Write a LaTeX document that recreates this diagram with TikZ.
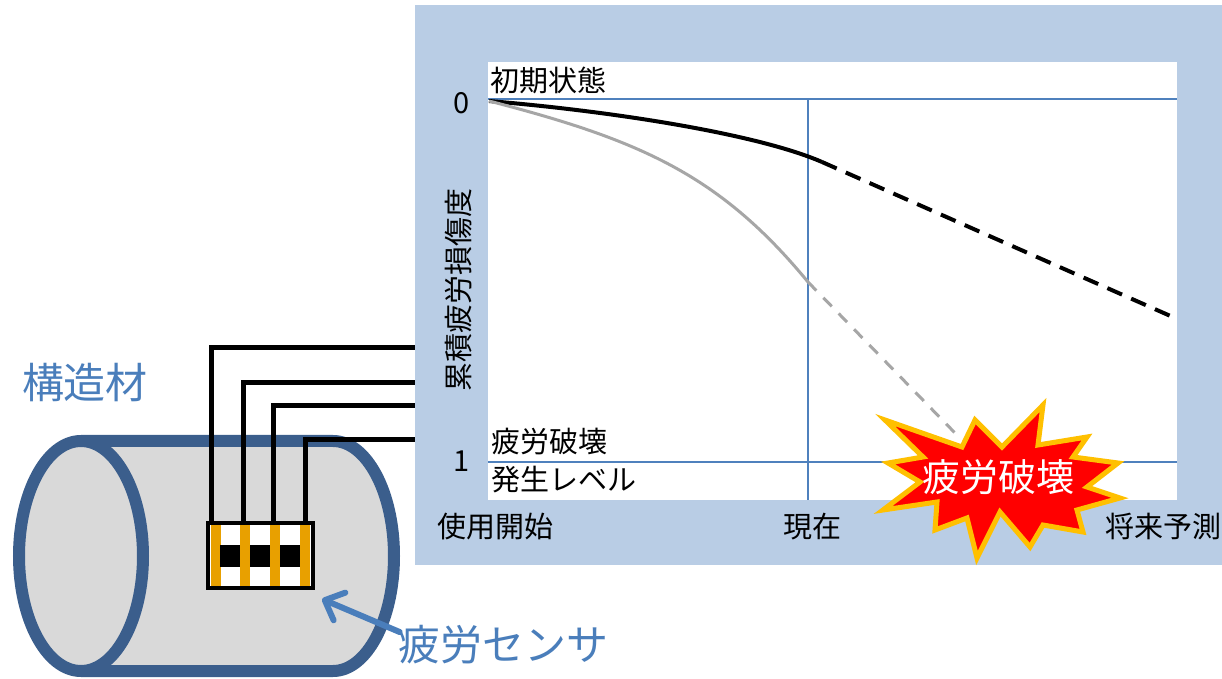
\documentclass[tikz,border=0pt]{standalone}
\usepackage{fontspec}
\setmainfont{Noto Sans CJK JP}
\usepackage{tikz}
\usetikzlibrary{arrows.meta,positioning}

\definecolor{panelblue}{RGB}{185,205,229}
\definecolor{gridblue}{RGB}{79,129,189}
\definecolor{pipeblue}{RGB}{59,94,140}
\definecolor{pipegray}{RGB}{217,217,217}
\definecolor{labelblue}{RGB}{74,126,187}
\definecolor{sensororange}{RGB}{232,160,0}
\definecolor{burstred}{RGB}{255,0,0}
\definecolor{burstrim}{RGB}{255,192,0}
\definecolor{curvegray}{RGB}{166,166,166}

\begin{document}
\begin{tikzpicture}[x=0.5pt,y=-0.5pt,
	  axislbl/.style={font=\fontsize{14.5}{16}\selectfont, inner sep=0pt},
	  bluelbl/.style={font=\fontsize{21}{24}\selectfont, text=labelblue, inner sep=0pt},
	  wire/.style={line width=2.5pt},
	  gridline/.style={gridblue, line width=1pt},
	  pointer/.style={labelblue, line width=3pt, line cap=round,
	    -{Straight Barb[length=8pt,width=15pt,line cap=round,line join=round]}}]
	  \useasboundingbox (0,0) rectangle (1222,679);

	  % chart panel
	  \fill[panelblue] (415,5) rectangle (1222,565);
	  \fill[white] (488,62) rectangle (1177,500);
	  \draw[gridline] (488,99) -- (1177,99);
	  \draw[gridline] (488,462) -- (1177,462);
	  \draw[gridline] (808,99) -- (808,500);

	  % damage curves
	  \draw[line width=2pt] (489,101) .. controls (620,112) and (760,135) .. (822,162);
	  \draw[line width=2pt, dash pattern=on 8pt off 5pt] (822,162) -- (1175,318);
	  \draw[curvegray, line width=1.5pt] (489,101) .. controls (640,140) and (720,175) .. (808,282);
	  \draw[curvegray, line width=1.5pt, dash pattern=on 6pt off 5pt] (808,282) -- (955,433);

	  \draw(490, 80) node[axislbl, anchor=west](initial) {初期状態};
	  \draw(462, 103) node[axislbl](zero) {0};
	  \draw(462, 461) node[axislbl](one) {1};
	  \draw(491, 442) node[axislbl, anchor=west](failtop) {疲労破壊};
	  \draw(491, 480) node[axislbl, anchor=west](failbot) {発生レベル};
	  \draw(459, 290) node[axislbl, rotate=90](ylabel) {累積疲労損傷度};
	  \draw(495, 527) node[axislbl](tstart) {使用開始};
	  \draw(812, 527) node[axislbl](tnow) {現在};
	  \draw(1163, 527) node[axislbl](tfuture) {将来予測};

	  % burst
	  \filldraw[fill=burstred, draw=burstrim, line width=2.5pt, line join=miter]
	    (885,420) -- (962,447) -- (975,420) -- (1002,447) -- (1043,405) -- (1038,445)
	    -- (1087,437) -- (1073,457) -- (1118,463) -- (1087,487) -- (1120,498) -- (1077,510)
	    -- (1083,532) -- (1043,525) -- (1030,547) -- (1000,512) -- (977,558) -- (967,518)
	    -- (935,530) -- (937,502) -- (883,510) -- (920,482) -- (888,463) -- (923,457) -- cycle;
	  \draw(998, 477) node[text=white, font=\fontsize{19}{22}\selectfont, inner sep=0pt](burst) {疲労破壊};

	  % pipe
	  \fill[pipegray] (81,441) -- (333,441) arc[start angle=-90, end angle=90, x radius=61, y radius=115] -- (81,671) -- cycle;
	  \draw[pipeblue, line width=6pt] (81,441) -- (333,441) arc[start angle=-90, end angle=90, x radius=61, y radius=115] -- (81,671);
	  \draw[fill=pipegray, draw=pipeblue, line width=6pt] (81,556) ellipse[x radius=62, y radius=115];

	  % sensor
	  \fill[white] (208,523) rectangle (313,588);
	  \foreach \x in {211,240,270,300} \fill[sensororange] (\x,523) rectangle ++(10,65);
	  \foreach \x in {220,250,280} \fill[black] (\x,545) rectangle ++(20,22);
	  \draw(260.5, 555.5) node[draw, line width=2pt, minimum width=52.5pt, minimum height=32.5pt, inner sep=0pt](sensor) {};

	  \foreach \dx/\wy [count=\i] in {5/348,37/383,67/406,99/440}{
	    \coordinate (w\i) at (415,\wy);
	    \draw[wire] ([shift={(\dx,0)}]sensor.north west) |- (w\i);
	  }

	  \draw(85, 383) node[bluelbl](pipelbl) {構造材};
	  \draw(503, 645) node[bluelbl](sensorlbl) {疲労センサ};
	  \draw[pointer] ([shift={(2,-13)}]sensorlbl.west) -- ([shift={(7,9)}]sensor.south east);
	\end{tikzpicture}
\end{document}
